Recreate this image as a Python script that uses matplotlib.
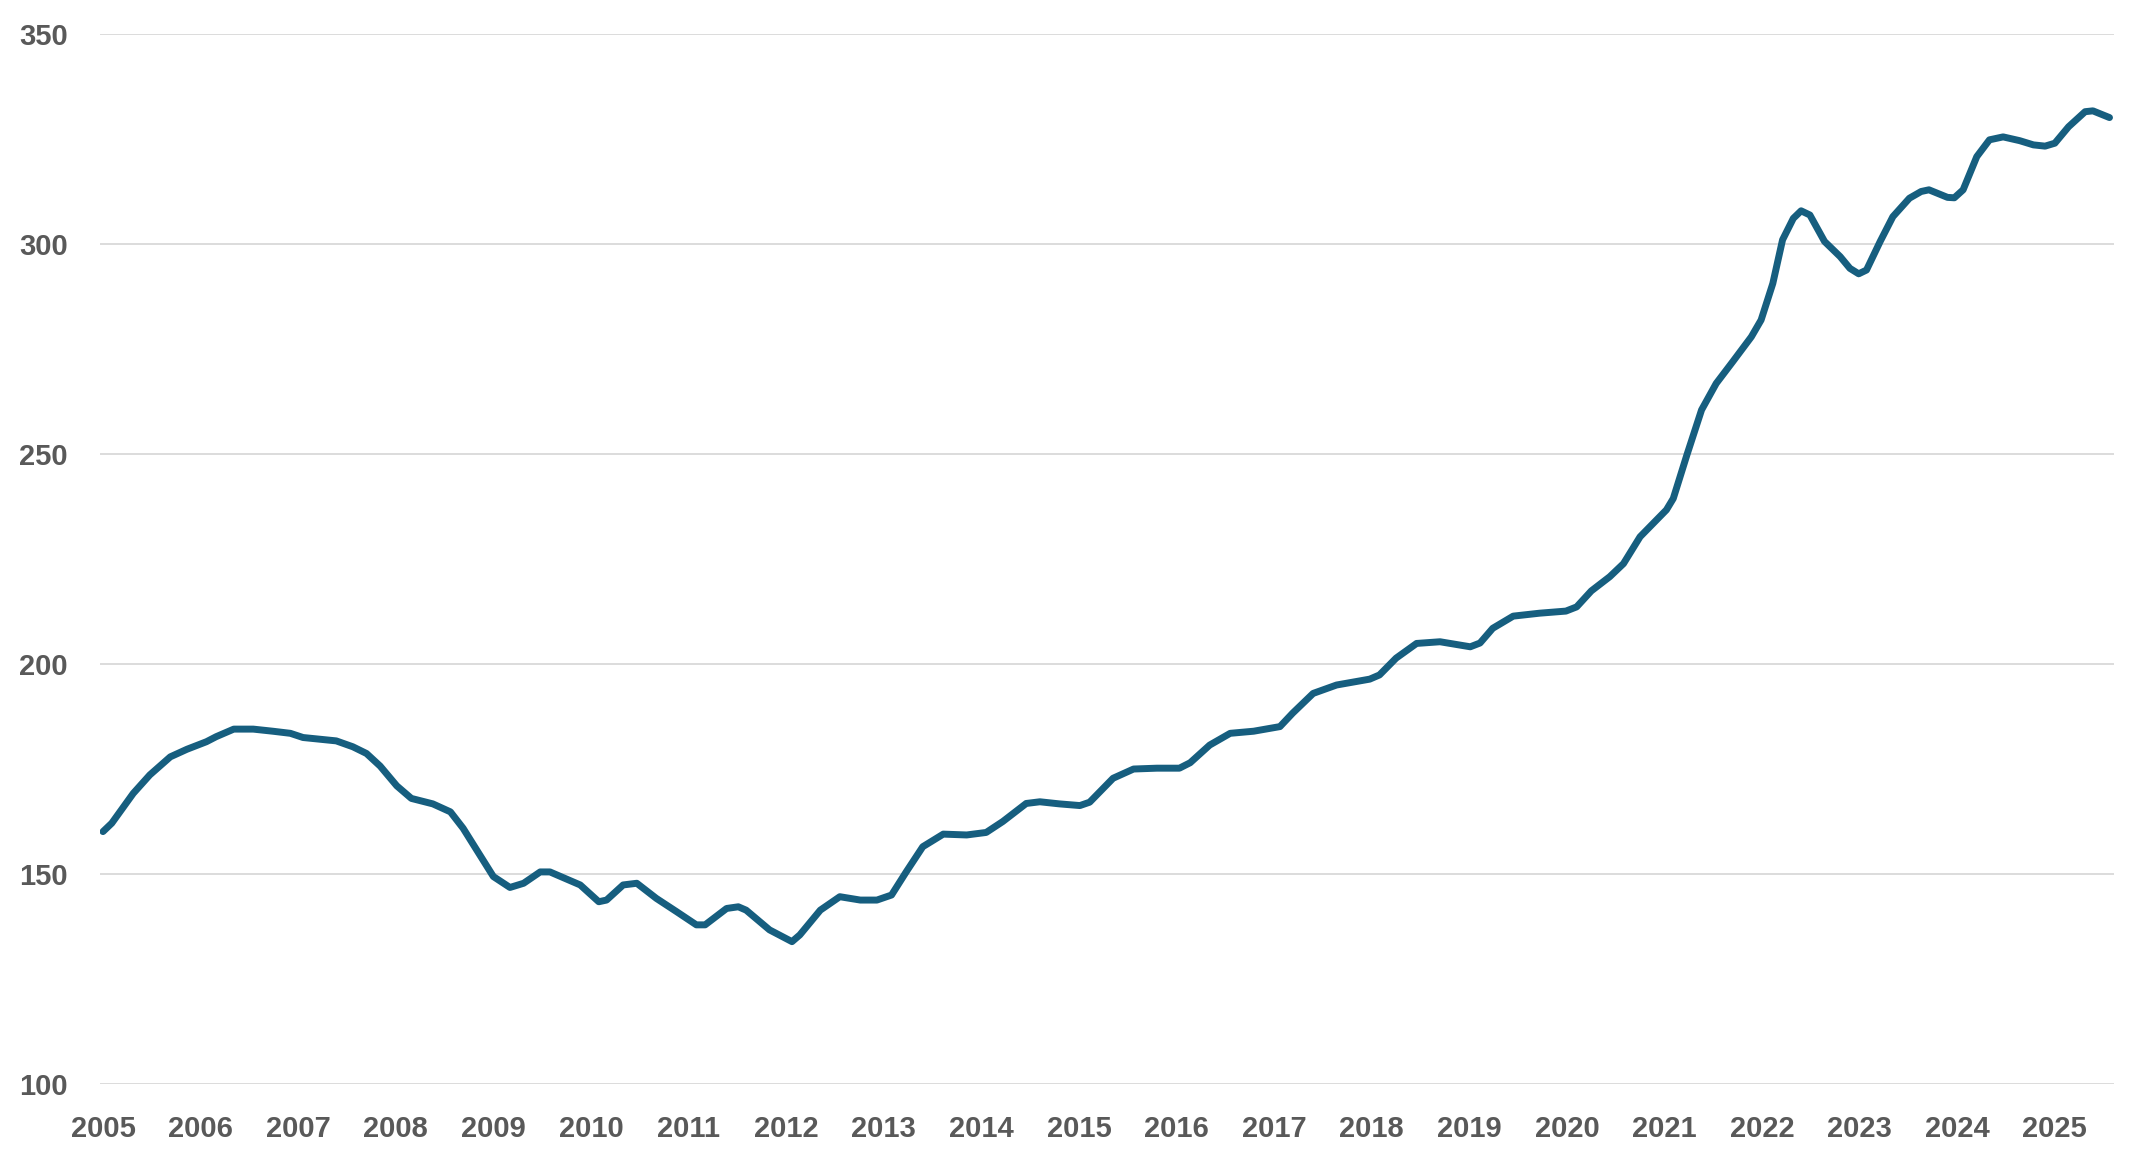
import matplotlib.pyplot as plt

# values (decimal year, index)
years = [2005.00, 2005.09, 2005.31, 2005.48, 2005.69, 2005.86, 2006.06, 2006.16, 2006.34, 2006.54,
         2006.74, 2006.92, 2007.05, 2007.22, 2007.39, 2007.56, 2007.70, 2007.84, 2008.01, 2008.16,
         2008.38, 2008.56, 2008.69, 2008.83, 2009.00, 2009.17, 2009.31, 2009.48, 2009.58, 2009.72,
         2009.89, 2010.08, 2010.16, 2010.33, 2010.47, 2010.67, 2010.88, 2011.08, 2011.17, 2011.39,
         2011.51, 2011.59, 2011.83, 2012.06, 2012.14, 2012.35, 2012.55, 2012.76, 2012.93, 2013.08,
         2013.23, 2013.40, 2013.61, 2013.85, 2014.05, 2014.22, 2014.46, 2014.60, 2014.80, 2015.01,
         2015.11, 2015.35, 2015.56, 2015.80, 2016.03, 2016.14, 2016.34, 2016.55, 2016.79, 2017.06,
         2017.19, 2017.40, 2017.64, 2017.98, 2018.08, 2018.25, 2018.46, 2018.70, 2019.01, 2019.11,
         2019.24, 2019.45, 2019.72, 2019.99, 2020.10, 2020.25, 2020.44, 2020.58, 2020.75, 2021.02,
         2021.09, 2021.23, 2021.38, 2021.53, 2021.70, 2021.89, 2021.99, 2022.11, 2022.21, 2022.32,
         2022.40, 2022.49, 2022.64, 2022.80, 2022.90, 2022.99, 2023.07, 2023.21, 2023.34, 2023.51,
         2023.63, 2023.71, 2023.90, 2023.97, 2024.06, 2024.20, 2024.33, 2024.47, 2024.64, 2024.78,
         2024.90, 2025.00, 2025.14, 2025.31, 2025.39, 2025.56]
index = [160.1, 162.1, 169.2, 173.6, 177.9, 179.7, 181.5, 182.7, 184.5, 184.5,
         184.0, 183.5, 182.5, 182.1, 181.7, 180.3, 178.7, 175.7, 171.0, 168.0,
         166.7, 164.8, 160.9, 155.7, 149.4, 146.8, 147.8, 150.5, 150.5, 149.1,
         147.4, 143.4, 143.8, 147.4, 147.8, 144.2, 141.0, 137.9, 137.9, 141.8,
         142.2, 141.4, 136.7, 133.9, 135.5, 141.4, 144.6, 143.8, 143.8, 145.0,
         150.5, 156.5, 159.5, 159.3, 159.9, 162.5, 166.8, 167.2, 166.7, 166.3,
         167.1, 172.8, 175.0, 175.2, 175.2, 176.5, 180.7, 183.5, 184.0, 185.1,
         188.3, 193.0, 195.0, 196.4, 197.4, 201.4, 204.9, 205.3, 204.1, 205.0,
         208.5, 211.4, 212.1, 212.6, 213.6, 217.4, 220.8, 223.9, 230.3, 236.7,
         239.4, 249.8, 260.5, 266.8, 272.0, 277.9, 281.9, 290.6, 301.0, 306.1,
         307.9, 306.9, 300.6, 297.0, 294.2, 292.9, 293.8, 300.6, 306.5, 310.9,
         312.5, 312.9, 311.1, 311.0, 312.9, 320.8, 324.8, 325.5, 324.6, 323.6,
         323.3, 324.0, 327.9, 331.5, 331.7, 330.1]

xtick_years = list(range(2005, 2026))
ytick_values = [100, 150, 200, 250, 300, 350]

plt.rcParams['font.family'] = ['Liberation Sans', 'DejaVu Sans']

fig = plt.figure(figsize=(21.45, 11.64), dpi=100)
ax = fig.add_axes([0.0466, 0.0687, 0.9389, 0.9021])

ax.plot(years, index, color='#165E7F', linewidth=5, solid_joinstyle='round',
        solid_capstyle='round', zorder=3)

ax.set_xlim(2004.969, 2025.605)
ax.set_ylim(100, 350)
ax.set_xticks(xtick_years)
ax.set_xticklabels([str(y) for y in xtick_years])
ax.set_yticks(ytick_values)

ax.grid(True, axis='y', color='#D9D9D9', linewidth=1.3, zorder=0)
ax.grid(False, axis='x')
for s in ax.spines.values():
    s.set_visible(False)

ax.tick_params(axis='both', length=0, labelsize=21, labelcolor='#595959')
ax.tick_params(axis='x', pad=22)
ax.tick_params(axis='y', pad=23)
for lab in ax.get_xticklabels() + ax.get_yticklabels():
    lab.set_fontweight('bold')

fig.savefig('out.png', dpi=100, facecolor='white')
